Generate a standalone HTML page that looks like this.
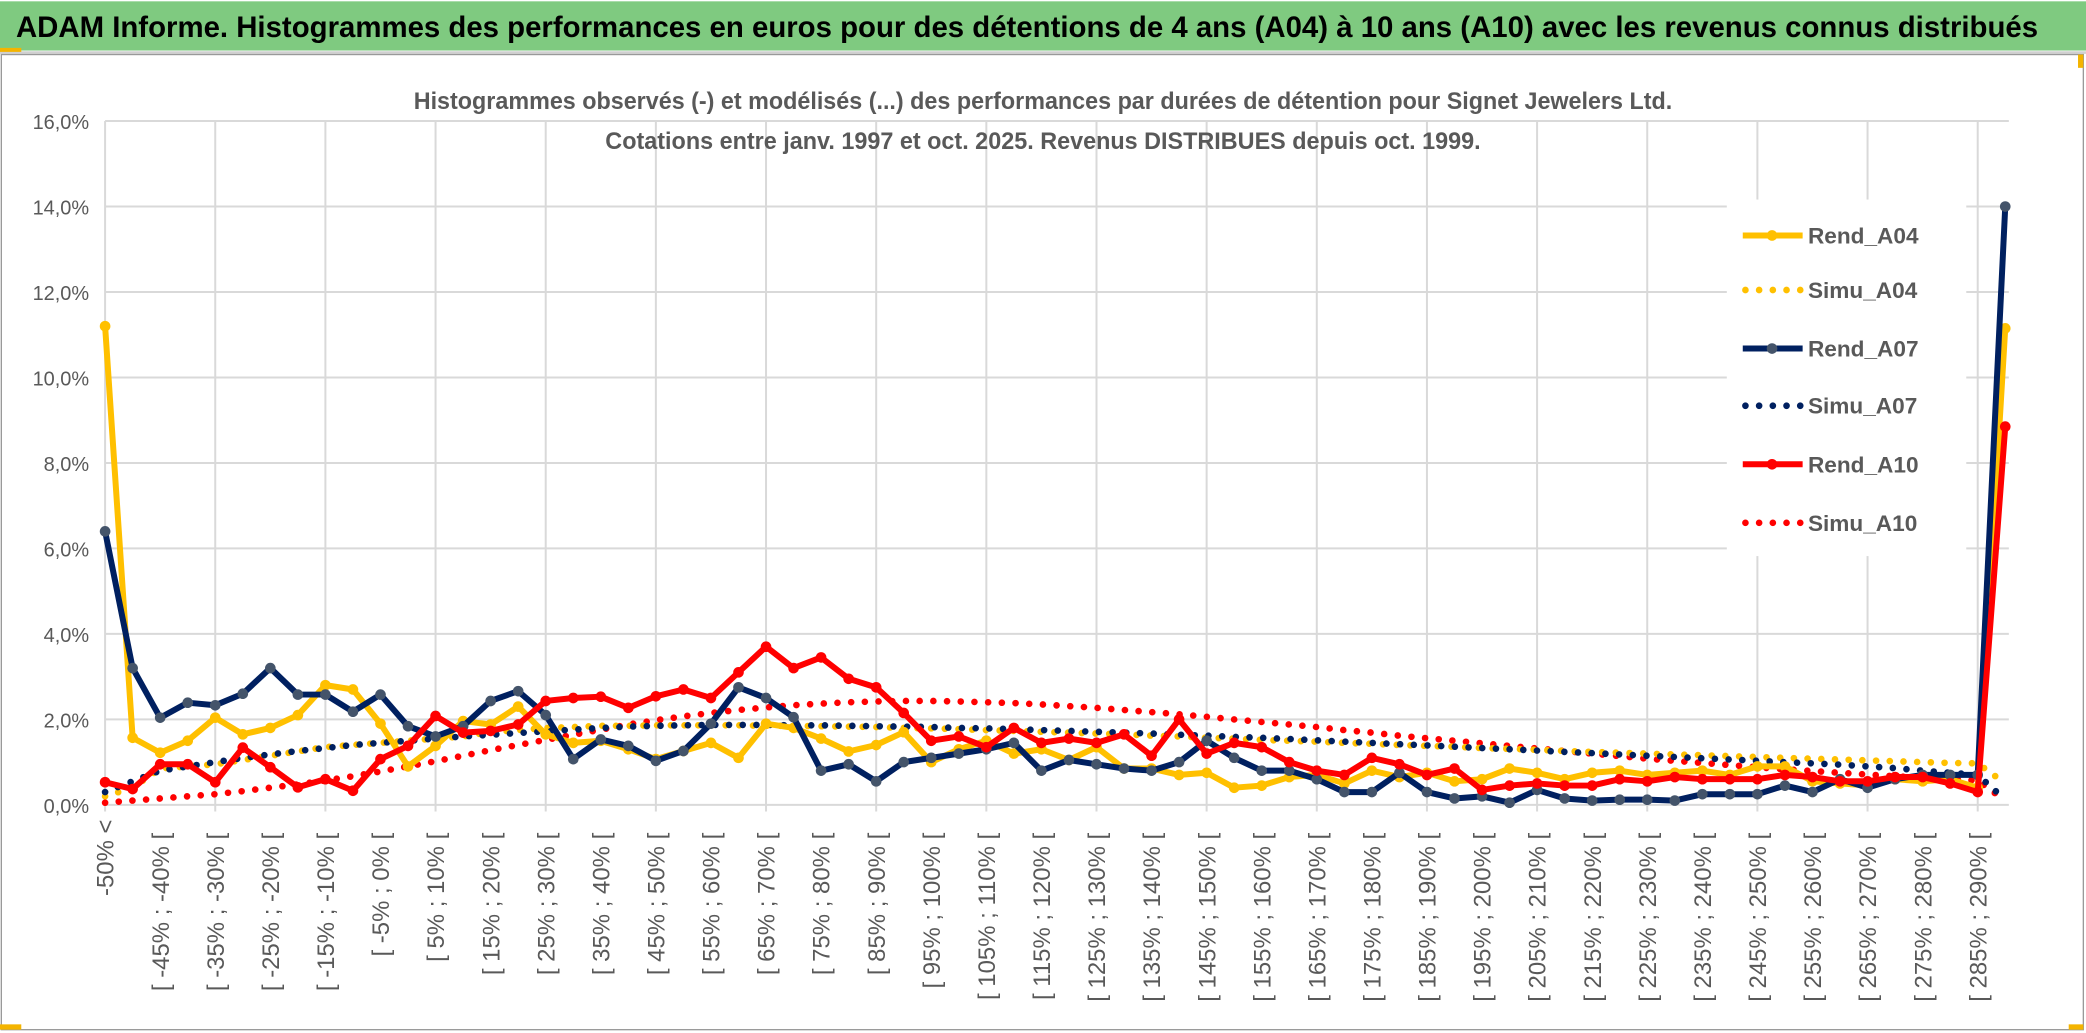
<!DOCTYPE html>
<html><head><meta charset="utf-8"><style>
html,body{margin:0;padding:0;background:#fff;}
svg{display:block;}
text{font-family:"Liberation Sans",sans-serif;}
</style></head><body>
<svg id="chart" width="2086" height="1033" viewBox="0 0 1568 776.5" preserveAspectRatio="none" xmlns="http://www.w3.org/2000/svg">
<rect x="0" y="0" width="1568" height="776.5" fill="#fff"/>
<rect x="0" y="1" width="1568" height="37" fill="#7fca80"/>
<line x1="0" y1="39.5" x2="1568" y2="39.5" stroke="#d0d0d0" stroke-width="2"/>
<rect x="0" y="36" width="16" height="3" fill="#f4b400"/>
<text x="12" y="28" font-size="22" font-weight="bold" fill="#000" textLength="1520" lengthAdjust="spacingAndGlyphs">ADAM Informe. Histogrammes des performances en euros pour des détentions de 4 ans (A04) à 10 ans (A10) avec les revenus connus distribués</text>
<rect x="1" y="41" width="1565" height="733" fill="none" stroke="#999" stroke-width="1"/>
<rect x="0" y="770" width="16" height="4" fill="#f4b400"/>
<rect x="1562" y="41" width="4" height="10" fill="#f4b400"/>
<rect x="1555" y="770" width="11" height="4" fill="#f4b400"/>
<g id="grid"></g>
<text x="784" y="82" text-anchor="middle" font-size="18" font-weight="bold" fill="#595959" textLength="946" lengthAdjust="spacingAndGlyphs">Histogrammes observés (-) et modélisés (...) des performances par durées de détention pour Signet Jewelers Ltd.</text>
<text x="784" y="112" text-anchor="middle" font-size="18" font-weight="bold" fill="#595959" textLength="658" lengthAdjust="spacingAndGlyphs">Cotations entre janv. 1997 et oct. 2025. Revenus DISTRIBUES depuis oct. 1999.</text>
<g id="series"></g>
<g id="xlabels"></g>
<g id="legend"></g>
</svg>
<script>
const rendA04 = [11.2,1.57,1.22,1.5,2.04,1.65,1.8,2.1,2.8,2.7,1.9,0.9,1.38,1.96,1.88,2.3,1.65,1.45,1.5,1.3,1.07,1.26,1.45,1.1,1.9,1.8,1.55,1.25,1.4,1.7,1.0,1.3,1.5,1.2,1.3,1.05,1.35,0.85,0.85,0.7,0.75,0.4,0.45,0.65,0.7,0.5,0.8,0.65,0.75,0.55,0.6,0.85,0.75,0.6,0.75,0.8,0.7,0.75,0.8,0.7,0.9,0.9,0.55,0.5,0.45,0.6,0.55,0.6,0.4,11.15];
const simuA04 = [0.2,0.4,0.85,0.9,0.95,1.05,1.15,1.25,1.35,1.4,1.45,1.5,1.55,1.6,1.7,1.75,1.8,1.82,1.85,1.85,1.86,1.86,1.86,1.86,1.85,1.85,1.84,1.83,1.82,1.8,1.79,1.77,1.75,1.73,1.71,1.69,1.67,1.65,1.62,1.6,1.57,1.55,1.52,1.5,1.48,1.45,1.43,1.4,1.38,1.36,1.33,1.31,1.29,1.26,1.24,1.22,1.2,1.18,1.16,1.14,1.12,1.1,1.08,1.06,1.04,1.02,1.0,0.98,0.97,0.5];
const rendA07 = [6.4,3.2,2.04,2.39,2.33,2.6,3.2,2.58,2.58,2.18,2.58,1.84,1.6,1.84,2.43,2.66,2.1,1.07,1.53,1.38,1.03,1.26,1.9,2.75,2.5,2.05,0.8,0.95,0.55,1.0,1.1,1.2,1.3,1.45,0.8,1.05,0.95,0.85,0.8,1.0,1.5,1.1,0.8,0.8,0.6,0.3,0.3,0.75,0.3,0.15,0.2,0.05,0.35,0.15,0.1,0.12,0.12,0.1,0.25,0.25,0.25,0.45,0.3,0.6,0.4,0.6,0.7,0.7,0.7,14.0];
const simuA07 = [0.3,0.55,0.8,0.9,1.0,1.1,1.18,1.26,1.33,1.4,1.45,1.5,1.55,1.6,1.64,1.68,1.72,1.76,1.8,1.83,1.85,1.86,1.87,1.87,1.87,1.86,1.86,1.85,1.84,1.83,1.82,1.8,1.79,1.77,1.75,1.73,1.71,1.69,1.67,1.64,1.62,1.59,1.57,1.54,1.51,1.48,1.45,1.42,1.39,1.36,1.33,1.3,1.27,1.24,1.21,1.18,1.15,1.12,1.09,1.06,1.03,1.0,0.97,0.94,0.9,0.86,0.8,0.75,0.7,0.12];
const rendA10 = [0.53,0.37,0.95,0.95,0.53,1.34,0.88,0.41,0.6,0.33,1.07,1.38,2.08,1.69,1.73,1.88,2.43,2.5,2.53,2.27,2.54,2.7,2.5,3.1,3.7,3.2,3.45,2.95,2.75,2.15,1.5,1.6,1.35,1.8,1.45,1.55,1.45,1.65,1.15,2.0,1.2,1.45,1.35,1.0,0.8,0.7,1.1,0.95,0.7,0.85,0.35,0.45,0.5,0.45,0.45,0.6,0.55,0.65,0.6,0.6,0.6,0.7,0.65,0.55,0.55,0.65,0.65,0.5,0.3,8.85];
const simuA10 = [0.05,0.1,0.15,0.2,0.25,0.32,0.4,0.48,0.57,0.67,0.78,0.9,1.02,1.15,1.28,1.4,1.52,1.64,1.76,1.88,1.98,2.07,2.15,2.22,2.28,2.33,2.37,2.4,2.42,2.43,2.43,2.42,2.4,2.38,2.35,2.31,2.27,2.22,2.17,2.12,2.06,2.0,1.94,1.88,1.82,1.75,1.69,1.62,1.56,1.5,1.44,1.38,1.32,1.26,1.2,1.14,1.08,1.03,0.98,0.93,0.88,0.83,0.79,0.75,0.71,0.67,0.63,0.6,0.57,0.1];
const yTicks = [0,2,4,6,8,10,12,14,16];
const seriesNames = ["Rend_A04","Simu_A04","Rend_A07","Simu_A07","Rend_A10","Simu_A10"];

const NS="http://www.w3.org/2000/svg";
const X0=79, STEP=20.7, Y0=605, YTOP=91, YMAX=16;
const xs=i=>X0+i*STEP;
const ys=v=>Y0-(v/YMAX)*(Y0-YTOP);
function mk(tag,attrs,parent){const e=document.createElementNS(NS,tag);for(const k in attrs)e.setAttribute(k,attrs[k]);parent.appendChild(e);return e;}
const N=rendA04.length;
function catLabel(i){if(i===0)return "-50% <";const a=-50+5*(i-1);return "[ "+a+"% ; "+(a+5)+"% [";}

const grid=document.getElementById('grid');
yTicks.forEach(t=>{
  const l=mk('line',{x1:X0,x2:1510,y1:ys(t),y2:ys(t),stroke:'#d9d9d9','stroke-width':1.5},grid);
  
  
  const tx=mk('text',{x:67,y:ys(t)+6,'text-anchor':'end','font-size':15,fill:'#595959'},grid);
  tx.textContent=t.toFixed(1).replace('.',',')+'%';
  
  
});
for(let i=0;i<N;i+=4){
  const l=mk('line',{x1:xs(i),x2:xs(i),y1:YTOP,y2:Y0+5,stroke:'#d9d9d9','stroke-width':1.5},grid);
  
  
}
const xl=document.getElementById('xlabels');
for(let i=0;i<N-1;i+=2){
  const t=mk('text',{transform:`translate(${xs(i)+6.5},${i===0?616:626}) rotate(-90)`,'text-anchor':'end','font-size':18,fill:'#595959'},xl);
  t.textContent=catLabel(i);
  
  
}
const S=document.getElementById('series');
function drawLine(vals,color,name,markerColor){
  const g=mk('g',{},S);
  
  
  const d=vals.map((v,i)=>(i?'L':'M')+xs(i).toFixed(1)+','+ys(v).toFixed(1)).join(' ');
  mk('path',{d:d,fill:'none',stroke:color,'stroke-width':4.5,'stroke-linejoin':'round'},g);
  vals.forEach((v,i)=>{
    const c=mk('circle',{cx:xs(i),cy:ys(v),r:4,fill:markerColor},g);
    
    
  });
}
function drawDots(vals,color,name){
  const g=mk('g',{},S);
  
  
  const d=vals.map((v,i)=>(i?'L':'M')+xs(i).toFixed(1)+','+ys(v).toFixed(1)).join(' ');
  mk('path',{d:d,fill:'none',stroke:color,'stroke-width':5,'stroke-linecap':'round','stroke-dasharray':'0 10.3'},g);
}
drawDots(simuA10,'#ff0000','simu-a10-line');
drawDots(simuA04,'#ffc000','simu-a04-line');
drawDots(simuA07,'#002060','simu-a07-line');
drawLine(rendA04,'#ffc000','rend-a04-line','#ffc000');
drawLine(rendA07,'#002060','rend-a07-line','#44546a');
drawLine(rendA10,'#ff0000','rend-a10-line','#ff0000');

const L=document.getElementById('legend');
mk('rect',{x:1298,y:150,width:180,height:268,fill:'#fff'},L);
const lcol=['#ffc000','#ffc000','#002060','#002060','#ff0000','#ff0000'];
const lmk=['#ffc000',null,'#44546a',null,'#ff0000',null];
const lys=[177,218,262,305,349,393];
seriesNames.forEach((n,k)=>{
  const g=mk('g',{},L);
  
  
  const y=lys[k];
  if(lmk[k]){mk('line',{x1:1310,x2:1355,y1:y,y2:y,stroke:lcol[k],'stroke-width':4.5},g);mk('circle',{cx:1332,cy:y,r:4,fill:lmk[k]},g);}
  else mk('line',{x1:1312,x2:1354,y1:y,y2:y,stroke:lcol[k],'stroke-width':5,'stroke-linecap':'round','stroke-dasharray':'0 10.3'},g);
  const t=mk('text',{x:1359,y:y+6,'font-size':17,'font-weight':'bold',fill:'#595959'},g);
  t.textContent=n;
});
</script>
</body></html>
